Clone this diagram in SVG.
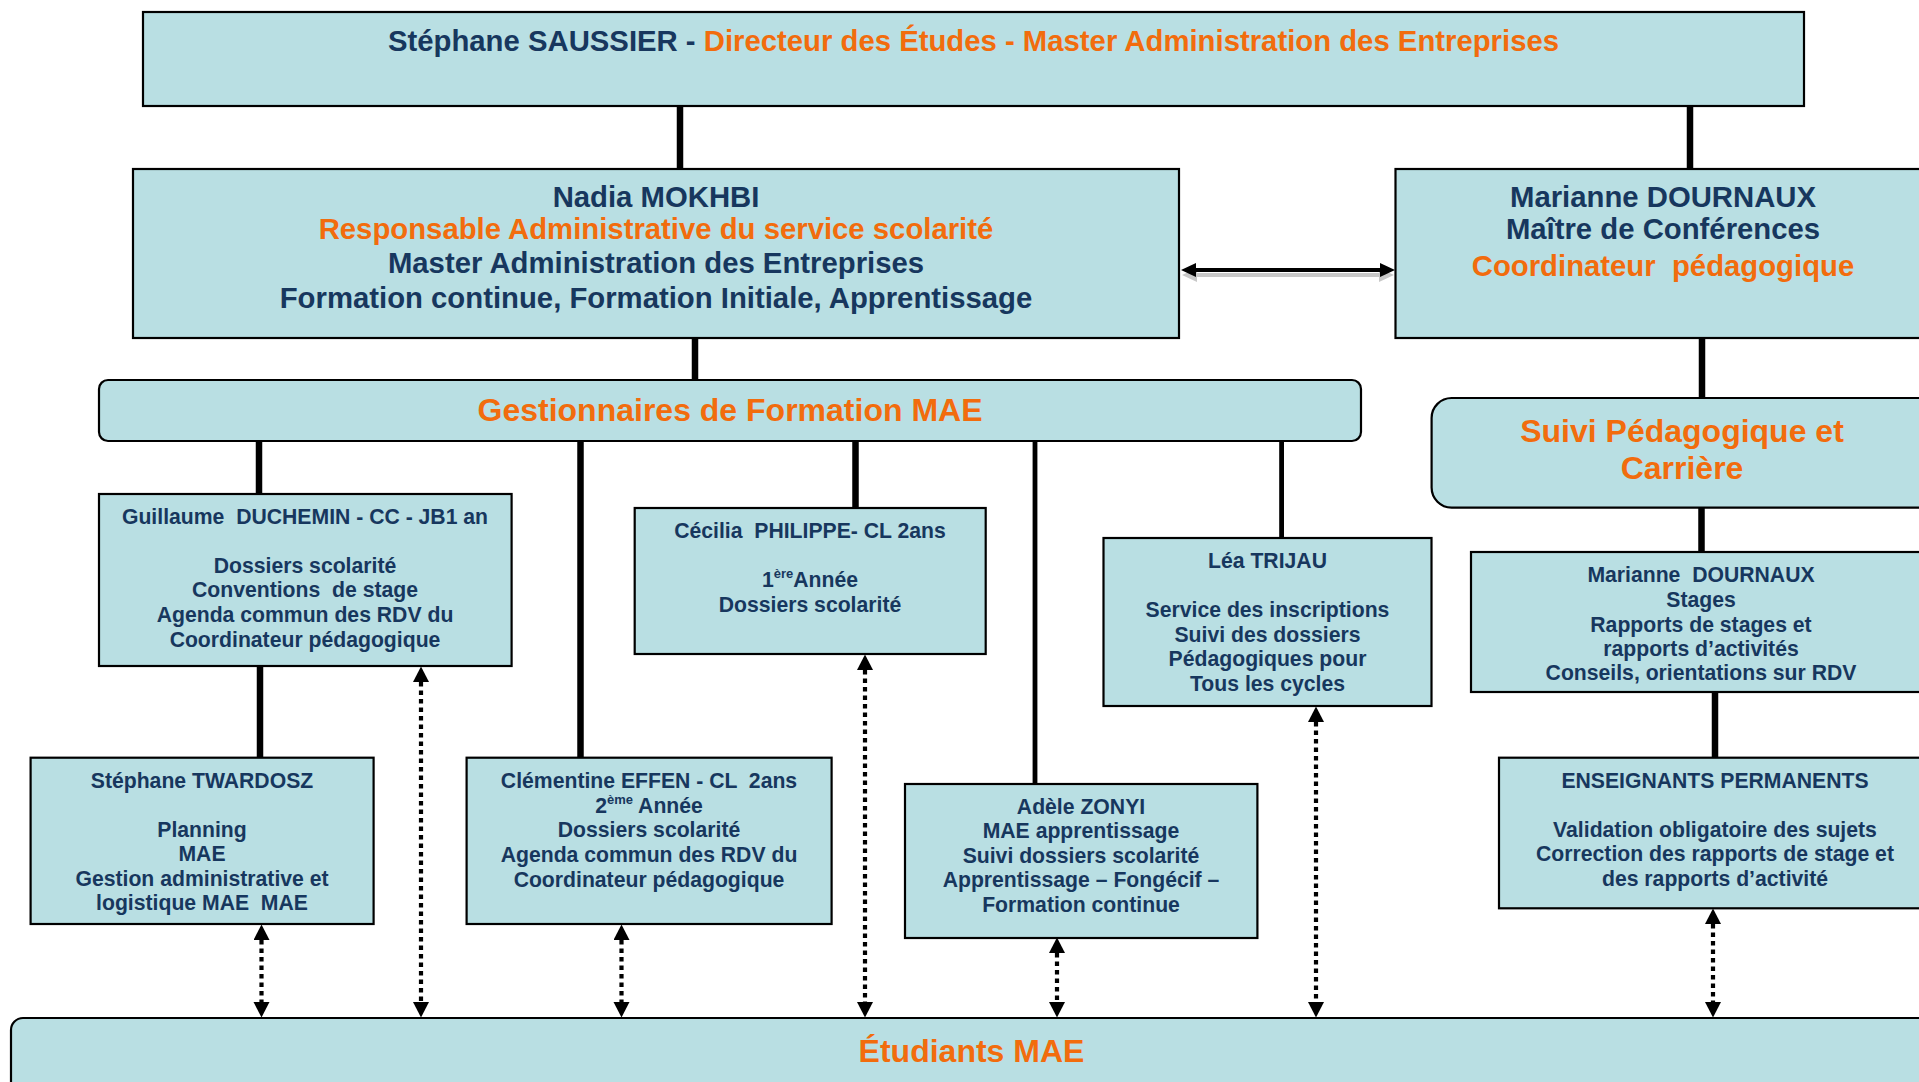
<svg xmlns="http://www.w3.org/2000/svg" width="1919" height="1082" viewBox="0 0 1919 1082">
<style>
.box{fill:#B9DFE3;stroke:#000;stroke-width:2.2}
.t{font-family:"Liberation Sans",Arial,sans-serif;font-weight:bold;text-anchor:middle}
.big{font-size:29.3px}
.hd{font-size:32px;fill:#F26C0D}
.sm{font-size:21.2px;fill:#17375E}
.nv{fill:#17375E}
.or{fill:#F26C0D}
.sup{font-size:13px}
.solid{stroke:#000;stroke-width:6.5;fill:none}
.thin{stroke:#000;stroke-width:4.8;fill:none}
.dot{stroke:#000;stroke-width:4.2;stroke-dasharray:4.5 4;fill:none}
</style>
<defs>
<marker id="ah" markerUnits="userSpaceOnUse" markerWidth="17" markerHeight="17" refX="0" refY="8" orient="auto-start-reverse" viewBox="0 0 17 17">
<path d="M0,0 L15.5,8 L0,16 z" fill="#000"/>
</marker>
<marker id="dh" markerUnits="userSpaceOnUse" markerWidth="16" markerHeight="16" refX="0" refY="7" orient="auto-start-reverse" viewBox="0 0 16 16">
<path d="M0,0 L15,7 L0,14 z" fill="#000"/>
</marker>
<marker id="dhs" markerUnits="userSpaceOnUse" markerWidth="16" markerHeight="16" refX="0" refY="7" orient="auto-start-reverse" viewBox="0 0 16 16">
<path d="M0,0 L15,7 L0,14 z" fill="#C8C8C8"/>
</marker>
</defs>

<g id="connectors">
<line class="solid" x1="680" y1="105" x2="680" y2="170"/>
<line class="solid" x1="1690" y1="105" x2="1690" y2="170"/>
<line class="solid" x1="695" y1="337" x2="695" y2="381"/>
<line class="solid" x1="1702" y1="337" x2="1702" y2="399"/>
<line class="solid" x1="259" y1="440" x2="259" y2="495"/>
<line class="solid" x1="580.5" y1="440" x2="580.5" y2="759"/>
<line class="solid" x1="855.5" y1="440" x2="855.5" y2="509"/>
<line class="thin" x1="1035" y1="440" x2="1035" y2="785"/>
<line class="thin" x1="1281.6" y1="440" x2="1281.6" y2="539"/>
<line class="solid" x1="260" y1="665" x2="260" y2="759"/>
<line class="solid" x1="1701.5" y1="506" x2="1701.5" y2="553"/>
<line class="solid" x1="1715" y1="691" x2="1715" y2="759"/>
<g id="double-arrow">
<line x1="1197" y1="275" x2="1379" y2="275" stroke="#C8C8C8" stroke-width="4" marker-start="url(#dhs)" marker-end="url(#dhs)"/>
<line x1="1196" y1="270" x2="1380" y2="270" stroke="#000" stroke-width="4.2" marker-start="url(#dh)" marker-end="url(#dh)"/>
</g>
<path class="dot" d="M261.5,940 V1002" marker-start="url(#ah)" marker-end="url(#ah)"/>
<path class="dot" d="M421,682 V1002" marker-start="url(#ah)" marker-end="url(#ah)"/>
<path class="dot" d="M621.5,940 V1002" marker-start="url(#ah)" marker-end="url(#ah)"/>
<path class="dot" d="M865,670 V1002" marker-start="url(#ah)" marker-end="url(#ah)"/>
<path class="dot" d="M1057,953 V1002" marker-start="url(#ah)" marker-end="url(#ah)"/>
<path class="dot" d="M1316,722 V1002" marker-start="url(#ah)" marker-end="url(#ah)"/>
<path class="dot" d="M1713,924 V1002" marker-start="url(#ah)" marker-end="url(#ah)"/>
</g>

<g id="directeur">
<rect class="box" x="143" y="12" width="1661" height="94"/>
<text class="t big" x="973.5" y="51"><tspan class="nv">Stéphane SAUSSIER - </tspan><tspan class="or">Directeur des Études - Master Administration des Entreprises</tspan></text>
</g>

<g id="nadia">
<rect class="box" x="133" y="169" width="1046" height="169"/>
<text class="t big nv" x="656" y="206.7">Nadia MOKHBI</text>
<text class="t big or" x="656" y="239.3">Responsable Administrative du service scolarité</text>
<text class="t big nv" x="656" y="273.3">Master Administration des Entreprises</text>
<text class="t big nv" x="656" y="308.3">Formation continue, Formation Initiale, Apprentissage</text>
</g>

<g id="marianne">
<rect class="box" x="1395.5" y="169" width="540" height="169"/>
<text class="t big nv" x="1663" y="206.7">Marianne DOURNAUX</text>
<text class="t big nv" x="1663" y="239.3">Maître de Conférences</text>
<text class="t big or" x="1663" y="276" xml:space="preserve">Coordinateur  pédagogique</text>
</g>

<g id="gestionnaires">
<rect class="box" x="99" y="380" width="1262" height="61" rx="9"/>
<text class="t hd" x="730" y="421">Gestionnaires de Formation MAE</text>
</g>

<g id="suivi">
<rect class="box" x="1431.6" y="398" width="520" height="109.6" rx="20"/>
<text class="t hd" x="1682" y="441.7">Suivi Pédagogique et</text>
<text class="t hd" x="1682" y="479">Carrière</text>
</g>

<g id="guillaume">
<rect class="box" x="99" y="494" width="412.6" height="172"/>
<text class="t sm" x="305" y="524.3" xml:space="preserve">Guillaume  DUCHEMIN - CC - JB1 an</text>
<text class="t sm" x="305" y="572.7">Dossiers scolarité</text>
<text class="t sm" x="305" y="597" xml:space="preserve">Conventions  de stage</text>
<text class="t sm" x="305" y="621.7">Agenda commun des RDV du</text>
<text class="t sm" x="305" y="646.7">Coordinateur pédagogique</text>
</g>

<g id="cecilia">
<rect class="box" x="634.7" y="508" width="351" height="146"/>
<text class="t sm" x="810" y="538.3" xml:space="preserve">Cécilia  PHILIPPE- CL 2ans</text>
<text class="t sm" x="810" y="587">1<tspan class="sup" dy="-9">ère</tspan><tspan dy="9">Année</tspan></text>
<text class="t sm" x="810" y="612">Dossiers scolarité</text>
</g>

<g id="lea">
<rect class="box" x="1103.5" y="538" width="328" height="168"/>
<text class="t sm" x="1267.5" y="568">Léa TRIJAU</text>
<text class="t sm" x="1267.5" y="616.7">Service des inscriptions</text>
<text class="t sm" x="1267.5" y="641.7">Suivi des dossiers</text>
<text class="t sm" x="1267.5" y="666">Pédagogiques pour</text>
<text class="t sm" x="1267.5" y="690.5">Tous les cycles</text>
</g>

<g id="marianne-stages">
<rect class="box" x="1471" y="552" width="470" height="140"/>
<text class="t sm" x="1701" y="582" xml:space="preserve">Marianne  DOURNAUX</text>
<text class="t sm" x="1701" y="607">Stages</text>
<text class="t sm" x="1701" y="631.7">Rapports de stages et</text>
<text class="t sm" x="1701" y="656">rapports d’activités</text>
<text class="t sm" x="1701" y="680">Conseils, orientations sur RDV</text>
</g>

<g id="twardosz">
<rect class="box" x="30.6" y="757.7" width="343" height="166.3"/>
<text class="t sm" x="202" y="787.7">Stéphane TWARDOSZ</text>
<text class="t sm" x="202" y="836.7">Planning</text>
<text class="t sm" x="202" y="860.7">MAE</text>
<text class="t sm" x="202" y="885.7">Gestion administrative et</text>
<text class="t sm" x="202" y="910" xml:space="preserve">logistique MAE  MAE</text>
</g>

<g id="clementine">
<rect class="box" x="466.6" y="757.7" width="365" height="166.3"/>
<text class="t sm" x="649" y="787.7" xml:space="preserve">Clémentine EFFEN - CL  2ans</text>
<text class="t sm" x="649" y="812.7">2<tspan class="sup" dy="-9">ème</tspan><tspan dy="9"> Année</tspan></text>
<text class="t sm" x="649" y="837">Dossiers scolarité</text>
<text class="t sm" x="649" y="861.7">Agenda commun des RDV du</text>
<text class="t sm" x="649" y="886.7">Coordinateur pédagogique</text>
</g>

<g id="adele">
<rect class="box" x="905" y="784" width="352.4" height="154"/>
<text class="t sm" x="1081" y="814">Adèle ZONYI</text>
<text class="t sm" x="1081" y="838">MAE apprentissage</text>
<text class="t sm" x="1081" y="862.7">Suivi dossiers scolarité</text>
<text class="t sm" x="1081" y="887.3">Apprentissage – Fongécif –</text>
<text class="t sm" x="1081" y="911.7">Formation continue</text>
</g>

<g id="enseignants">
<rect class="box" x="1499" y="757.7" width="440" height="150.6"/>
<text class="t sm" x="1715" y="787.7">ENSEIGNANTS PERMANENTS</text>
<text class="t sm" x="1715" y="836.7">Validation obligatoire des sujets</text>
<text class="t sm" x="1715" y="861">Correction des rapports de stage et</text>
<text class="t sm" x="1715" y="885.7">des rapports d’activité</text>
</g>

<g id="etudiants">
<rect class="box" x="11" y="1018" width="1935" height="100" rx="12"/>
<text class="t hd" x="971.5" y="1061.7">Étudiants MAE</text>
</g>
</svg>
